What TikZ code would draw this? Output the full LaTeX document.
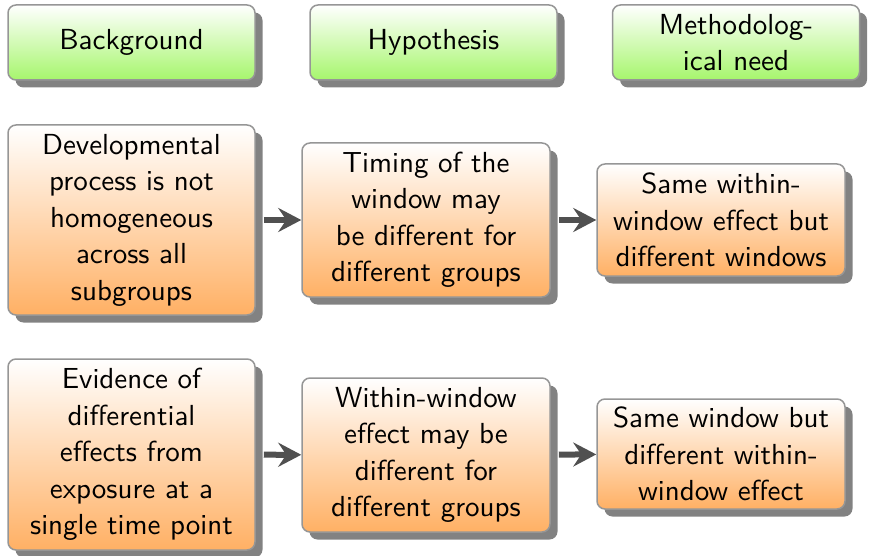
\documentclass[tikz,border=0pt]{standalone}
\usetikzlibrary{shadows,arrows.meta}
\DeclareFontFamily{TU}{lmssten}{}
\DeclareFontShape{TU}{lmssten}{m}{n}{<-> "[lmsans10-regular]:+tlig;"}{}
\definecolor{bordergray}{RGB}{150,150,150}
\definecolor{shadowgray}{RGB}{130,130,130}
\definecolor{greenbot}{RGB}{166,246,108}
\definecolor{orangebot}{RGB}{255,176,100}
\definecolor{arrowgray}{RGB}{80,80,80}
\begin{document}
\begin{tikzpicture}[x=1pt,y=1pt,
 box/.style={draw=bordergray, line width=1.5pt, rounded corners=8pt, align=center, inner sep=0pt,
   font=\fontfamily{lmssten}\fontsize{29}{36.5}\selectfont,
   drop shadow={shadow xshift=7.5pt, shadow yshift=-7.5pt, fill=shadowgray, opacity=1}},
 head/.style={box, top color=white, bottom color=greenbot, minimum width=247pt, minimum height=75pt},
 item/.style={box, top color=white, bottom color=orangebot, minimum width=247pt},
 arr/.style={draw=arrowgray, line width=6pt, -{Stealth[length=23pt,width=24pt,inset=8pt]}, shorten <=8pt}]
\useasboundingbox (0,0) rectangle (869,-556);
\node[head] (h1) at (131.5,-42.5) {Background};
\node[head] (h2) at (433.5,-42.5) {Hypothesis};
\node[head] (h3) at (736,-42.5) {Methodolog-\\ical need};
\node[item, minimum height=190pt] (a1) at (131.5,-220) {Developmental\\process is not\\homogeneous\\across all\\subgroups};
\node[item, minimum height=154pt, minimum width=248pt] (a2) at (426,-220) {Timing of the\\window may\\be different for\\different groups};
\node[item, minimum height=112pt, minimum width=248pt] (a3) at (721,-220) {Same within-\\window effect but\\different windows};
\node[item, minimum height=191pt] (b1) at (131.5,-454.5) {Evidence of\\differential\\effects from\\exposure at a\\single time point};
\node[item, minimum height=154pt, minimum width=248pt] (b2) at (426,-455) {Within-window\\effect may be\\different for\\different groups};
\node[item, minimum height=110pt, minimum width=248pt] (b3) at (721,-454) {Same window but\\different within-\\window effect};
\draw[arr] (a1) -- (a2);
\draw[arr] (a2) -- (a3);
\draw[arr] (b1) -- (b2);
\draw[arr] (b2) -- (b3);
\end{tikzpicture}
\end{document}
